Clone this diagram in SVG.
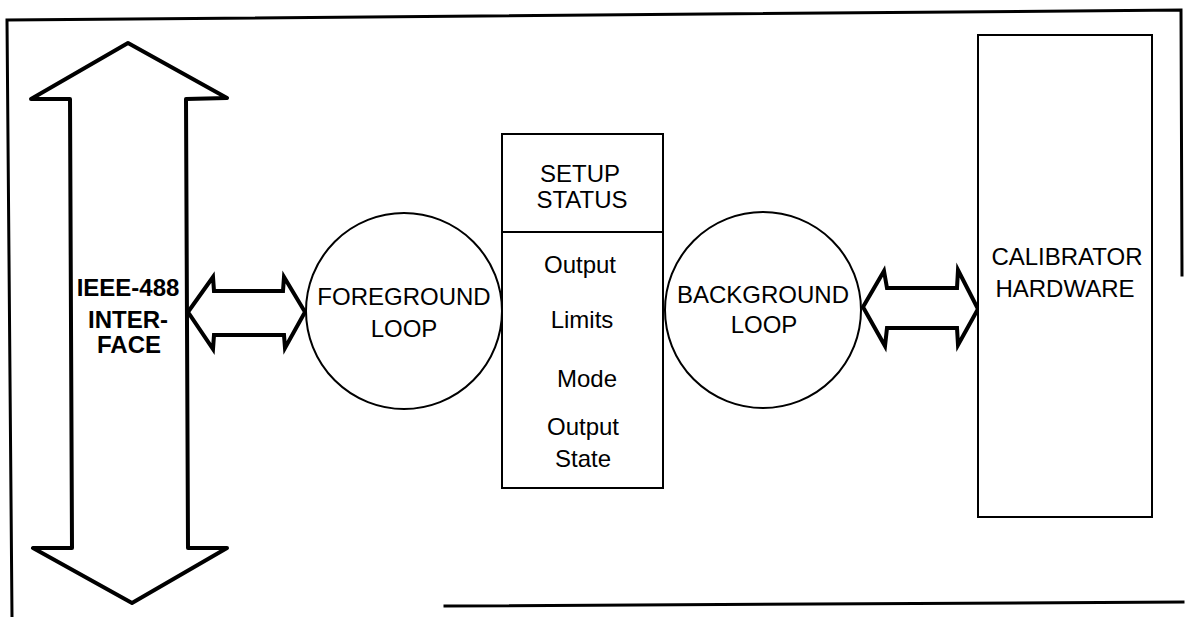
<svg xmlns="http://www.w3.org/2000/svg" width="1187" height="617" viewBox="0 0 1187 617">
<style>
.frame{fill:none;stroke:#000;stroke-width:3;stroke-linecap:square}
.big{fill:#fff;stroke:#000;stroke-width:4;stroke-linejoin:round}
.dbl{fill:#fff;stroke:#000;stroke-width:4;stroke-linejoin:miter}
.node{fill:#fff;stroke:#000;stroke-width:2}
.t{font-family:"Liberation Sans",Arial,sans-serif;font-size:24px;fill:#000;text-anchor:middle}
.b{font-weight:bold}
</style>
<rect width="1187" height="617" fill="#fff"/>
<g id="frame">
<polyline class="frame" points="12,617 7,20 1181,10 1182,275"/>
<line class="frame" x1="445" y1="606" x2="1183" y2="602"/>
</g>
<g id="ieee-interface">
<polygon class="big" points="128,43 227,98 186,99 188,548 227,548 132,603 33,548 72,548 70,99 31,99"/>
<text class="t b" x="128" y="296">IEEE-488</text>
<text class="t b" x="128" y="328">INTER-</text>
<text class="t b" x="129" y="353">FACE</text>
</g>
<g id="connectors">
<polygon id="arrow-ieee-fg" class="dbl" points="188,312 213,277 214,291 283,291 284,277 305,312 285,348 284,335 214,335 213,349"/>
<polygon id="arrow-bg-hw" class="dbl" points="863,307 884,271 887,288 957,288 958,270 978,309 958,345 957,328 887,328 885,346"/>
</g>
<g id="foreground-loop">
<circle class="node" cx="404" cy="311" r="98"/>
<text class="t" x="404" y="305">FOREGROUND</text>
<text class="t" x="404" y="337">LOOP</text>
</g>
<g id="setup-status">
<rect class="node" x="502" y="134" width="161" height="354"/>
<line class="node" x1="502" y1="232" x2="663" y2="232"/>
<text class="t" x="580" y="182">SETUP</text>
<text class="t" x="582" y="208">STATUS</text>
<text class="t" x="580" y="273">Output</text>
<text class="t" x="582" y="328">Limits</text>
<text class="t" x="587" y="387">Mode</text>
<text class="t" x="583" y="435">Output</text>
<text class="t" x="583" y="467">State</text>
</g>
<g id="background-loop">
<circle class="node" cx="763" cy="310" r="98"/>
<text class="t" x="763" y="303">BACKGROUND</text>
<text class="t" x="764" y="333">LOOP</text>
</g>
<g id="calibrator-hardware">
<rect class="node" x="978" y="35" width="174" height="482"/>
<text class="t" x="1067" y="265">CALIBRATOR</text>
<text class="t" x="1065" y="297">HARDWARE</text>
</g>
</svg>
